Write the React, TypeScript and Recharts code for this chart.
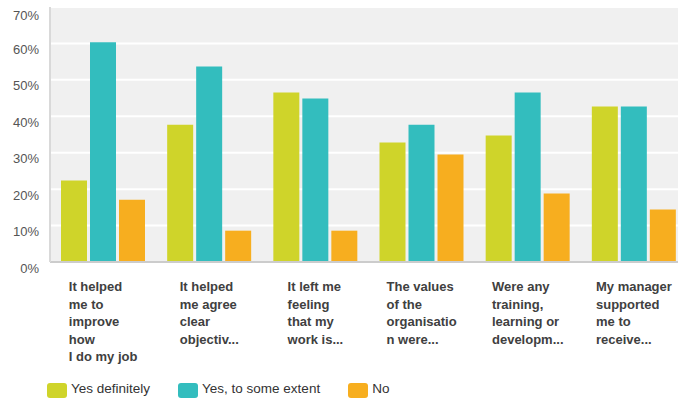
import { Bar, BarChart, CartesianGrid, Legend, XAxis, YAxis } from "recharts";

const categories = [
  "It helped\nme to\nimprove\nhow\nI do my job",
  "It helped\nme agree\nclear\nobjectiv...",
  "It left me\nfeeling\nthat my\nwork is...",
  "The values\nof the\norganisatio\nn were...",
  "Were any\ntraining,\nlearning or\ndevelopm...",
  "My manager\nsupported\nme to\nreceive..."
];
const yesDefinitely = [22.4, 37.7, 46.5, 32.8, 34.7, 42.7];
const yesSomeExtent = [60.3, 53.7, 44.9, 37.7, 46.5, 42.7];
const no = [17.1, 8.6, 8.6, 29.5, 18.8, 14.4];
const yTicks = [0, 10, 20, 30, 40, 50, 60, 70];

const series = [
  { key: "definitely", name: "Yes definitely", color: "#cfd42a" },
  { key: "extent", name: "Yes, to some extent", color: "#33bdbe" },
  { key: "no", name: "No", color: "#f7ae1f" }
];

const data = categories.map((label, i) => ({
  label,
  definitely: yesDefinitely[i],
  extent: yesSomeExtent[i],
  no: no[i]
}));

const FONT = "'Liberation Sans', Arial, Helvetica, sans-serif";

let ctx: CanvasRenderingContext2D | null = null;
function textWidth(s: string) {
  if (!ctx) ctx = document.createElement("canvas").getContext("2d");
  if (!ctx) return s.length * 7;
  ctx.font = `bold 13px ${FONT}`;
  return ctx.measureText(s).width;
}

function CategoryTick({ x, y, payload }: any) {
  const lines = String(payload.value).split("\n");
  const w = Math.max(...lines.map(textWidth));
  const left = x - w / 2;
  return (
    <text x={left} y={y} fill="#404040" fontSize={13} fontWeight="bold" fontFamily={FONT}>
      {lines.map((l, i) => (
        <tspan key={i} x={left} dy={i === 0 ? 29 : 17.5}>
          {l}
        </tspan>
      ))}
    </text>
  );
}

function PercentTick({ x, y, payload }: any) {
  return (
    <text x={x} y={y + 6} textAnchor="end" dominantBaseline="central" fill="#555" fontSize={13} fontFamily={FONT}>
      {payload.value}%
    </text>
  );
}

function LegendBox() {
  return (
    <div style={{ display: "flex", height: 20, alignItems: "center", fontFamily: FONT, fontSize: 13.5, color: "#333" }}>
      {series.map((s) => (
        <div key={s.key} style={{ display: "flex", alignItems: "center", marginRight: 28 }}>
          <span style={{ width: 20, height: 15, borderRadius: 3, background: s.color, marginRight: 4 }} />
          <span style={{ position: "relative", top: -2 }}>{s.name}</span>
        </div>
      ))}
    </div>
  );
}

export default function App() {
  return (
    <div style={{ position: "absolute", left: 0, top: 0, width: 678, height: 400, overflow: "hidden", background: "#fff" }}>
      <BarChart
        width={690}
        height={400}
        data={data}
        margin={{ top: 7, right: 3, left: 0, bottom: 0 }}
        barCategoryGap={11}
        barGap={3}
      >
        <CartesianGrid vertical={false} fill="#f0f0f0" stroke="#ffffff" strokeWidth={2} />
        <XAxis
          dataKey="label"
          height={118}
          interval={0}
          tickSize={0}
          tickMargin={0}
          tickLine={false}
          axisLine={{ stroke: "#cccccc", strokeWidth: 2 }}
          tick={<CategoryTick />}
        />
        <YAxis
          width={50}
          domain={[0, 70]}
          ticks={yTicks}
          tickSize={0}
          tickMargin={11}
          tickLine={false}
          axisLine={{ stroke: "#d9d9d9", strokeWidth: 2 }}
          tick={<PercentTick />}
        />
        <Legend
          verticalAlign="bottom"
          align="left"
          wrapperStyle={{ left: 47, bottom: 0 }}
          content={<LegendBox />}
        />
        {series.map((s) => (
          <Bar key={s.key} dataKey={s.key} name={s.name} fill={s.color} isAnimationActive={false} />
        ))}
      </BarChart>
    </div>
  );
}
